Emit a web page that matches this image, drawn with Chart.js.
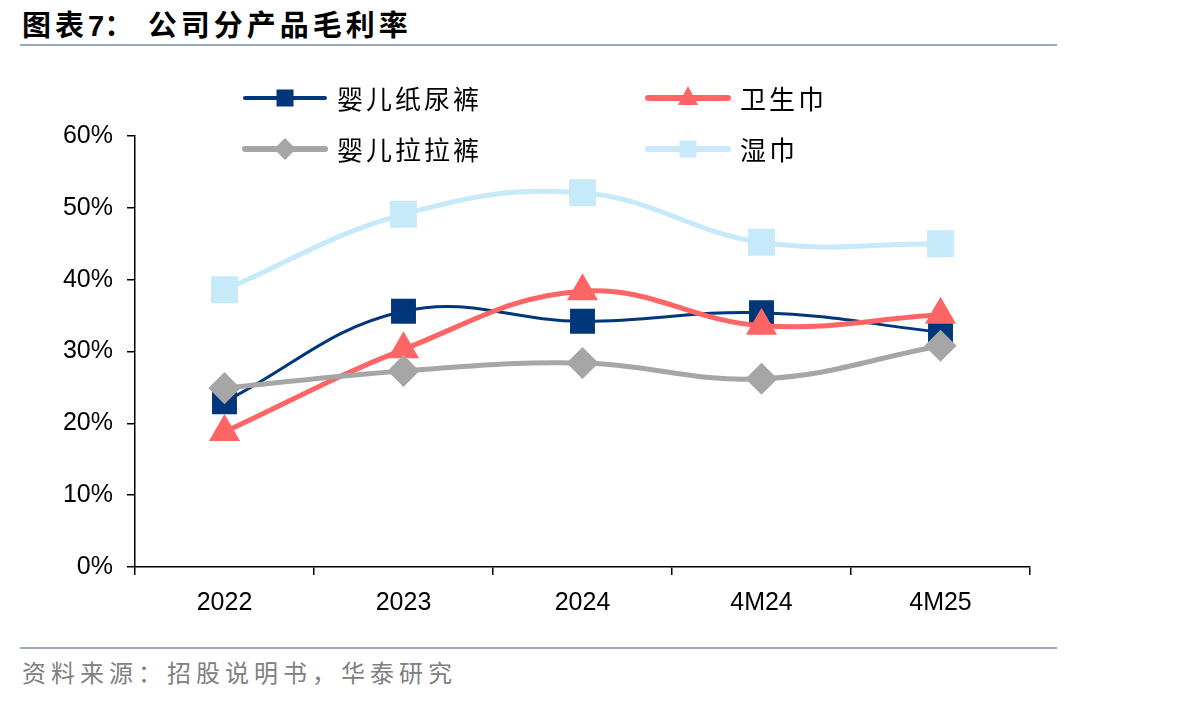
<!DOCTYPE html>
<html>
<head>
<meta charset="utf-8">
<script src="https://cdn.jsdelivr.net/npm/chart.js@4"></script>
<style>
  body { margin: 0; background: #fff; width: 1203px; height: 703px; position: relative; overflow: hidden; }
  .title { position: absolute; left: 22px; top: 2px; font: bold 29px "Noto Sans CJK SC", sans-serif; letter-spacing: 4px; color: #000; }
  .title b { font-family: "Liberation Sans", Arial, sans-serif; letter-spacing: 0; }
  .rule { position: absolute; left: 20px; width: 1037px; height: 2px; background: #9AAABB; }
  .source { position: absolute; left: 22px; top: 654px; font: 24px "Noto Sans CJK SC", sans-serif; letter-spacing: 5px; color: #808080; }
  #wrap { position: absolute; left: 0; top: 60px; width: 1060px; height: 580px; }
</style>
</head>
<body>
<div class="title">图表<b>7</b>：&nbsp;公司分产品毛利率</div>
<div class="rule" style="top:44px"></div>
<div id="wrap"><canvas id="marginChart"></canvas></div>
<div class="rule" style="top:647px"></div>
<div class="source">资料来源：招股说明书，华泰研究</div>
<script>
const categories = ['2022', '2023', '2024', '4M24', '4M25'];
const diapers = [23.0, 35.6, 34.2, 35.4, 32.7];      // 婴儿纸尿裤
const sanitaryPads = [18.8, 30.3, 38.4, 33.6, 35.1]; // 卫生巾
const pullUps = [24.9, 27.3, 28.4, 26.2, 30.8];      // 婴儿拉拉裤
const wipes = [38.6, 49.1, 52.1, 45.2, 45.0];        // 湿巾
const yTicks = [0, 10, 20, 30, 40, 50, 60];

// legend drawn by hand: 2 x 2 grid over the top of the plot
const gridLegend = {
    id: 'gridLegend',
    afterDraw(chart) {
        const ctx = chart.ctx;
        const cols = [245, 648];
        const rows = [38, 89];
        chart.data.datasets.forEach((ds, i) => {
            const x = cols[i % 2];
            const y = rows[Math.floor(i / 2)];
            ctx.save();
            ctx.strokeStyle = ds.borderColor;
            ctx.lineWidth = ds.borderWidth + 1;
            ctx.lineCap = 'round';
            ctx.beginPath();
            ctx.moveTo(x, y);
            ctx.lineTo(x + 80, y);
            ctx.stroke();
            ctx.fillStyle = ds.borderColor;
            const cx = x + 40;
            ctx.beginPath();
            if (ds.pointStyle === 'rect') {
                ctx.rect(cx - 8.5, y - 8.5, 17, 17);
            } else if (ds.pointStyle === 'triangle') {
                ctx.moveTo(cx, y - 12);
                ctx.lineTo(cx + 10, y + 7);
                ctx.lineTo(cx - 10, y + 7);
                ctx.closePath();
            } else {
                ctx.moveTo(cx, y - 11);
                ctx.lineTo(cx + 11, y);
                ctx.lineTo(cx, y + 11);
                ctx.lineTo(cx - 11, y);
                ctx.closePath();
            }
            ctx.fill();
            ctx.fillStyle = '#000';
            ctx.font = '26px "Noto Sans CJK SC", sans-serif';
            ctx.letterSpacing = '3px';
            ctx.textBaseline = 'middle';
            ctx.fillText(ds.label, x + 92, y + 1);
            ctx.restore();
        });
    }
};

new Chart(document.getElementById('marginChart').getContext('2d'), {
    type: 'line',
    data: {
        labels: categories,
        datasets: [{
            label: '婴儿纸尿裤',
            data: diapers,
            borderColor: '#00367A',
            backgroundColor: '#00367A',
            borderWidth: 3,
            pointStyle: 'rect',
            pointRadius: 15.5,
            order: 4
        }, {
            label: '卫生巾',
            data: sanitaryPads,
            borderColor: '#FF6565',
            backgroundColor: '#FF6565',
            borderWidth: 5,
            pointStyle: 'triangle',
            pointRadius: 13,
            order: 3
        }, {
            label: '婴儿拉拉裤',
            data: pullUps,
            borderColor: '#A6A6A6',
            backgroundColor: '#A6A6A6',
            borderWidth: 5,
            pointStyle: 'rectRot',
            pointRadius: 12.5,
            order: 2
        }, {
            label: '湿巾',
            data: wipes,
            borderColor: '#C6EAFA',
            backgroundColor: '#C6EAFA',
            borderWidth: 5,
            pointStyle: 'rect',
            pointRadius: 15.5,
            order: 1
        }]
    },
    options: {
        responsive: true,
        maintainAspectRatio: false,
        animation: false,
        layout: { padding: { top: 76, right: 30, left: 0, bottom: 0 } },
        elements: {
            line: { tension: 0.4 },
            point: { borderWidth: 0, hoverRadius: 15 }
        },
        plugins: {
            legend: { display: false },
            tooltip: { enabled: false }
        },
        scales: {
            x: {
                offset: true,
                grid: { drawOnChartArea: false, tickLength: 8, color: '#000', lineWidth: 1.5, offset: true },
                border: { color: '#000', width: 1.5 },
                ticks: { color: '#000', padding: 13, font: { family: '"Liberation Sans", Arial', size: 25 } },
                afterFit(scale) { scale.height = 73; }
            },
            y: {
                min: 0,
                max: 60,
                afterBuildTicks(scale) { scale.ticks = yTicks.map(v => ({ value: v })); },
                grid: { drawOnChartArea: false, tickLength: 8, color: '#000', lineWidth: 1.5 },
                border: { color: '#000', width: 1.5 },
                ticks: {
                    color: '#000',
                    padding: 14,
                    font: { family: '"Liberation Sans", Arial', size: 25 },
                    callback: v => v + '%'
                },
                afterFit(scale) { scale.width = 135; }
            }
        }
    },
    plugins: [gridLegend]
});
</script>
</body>
</html>
